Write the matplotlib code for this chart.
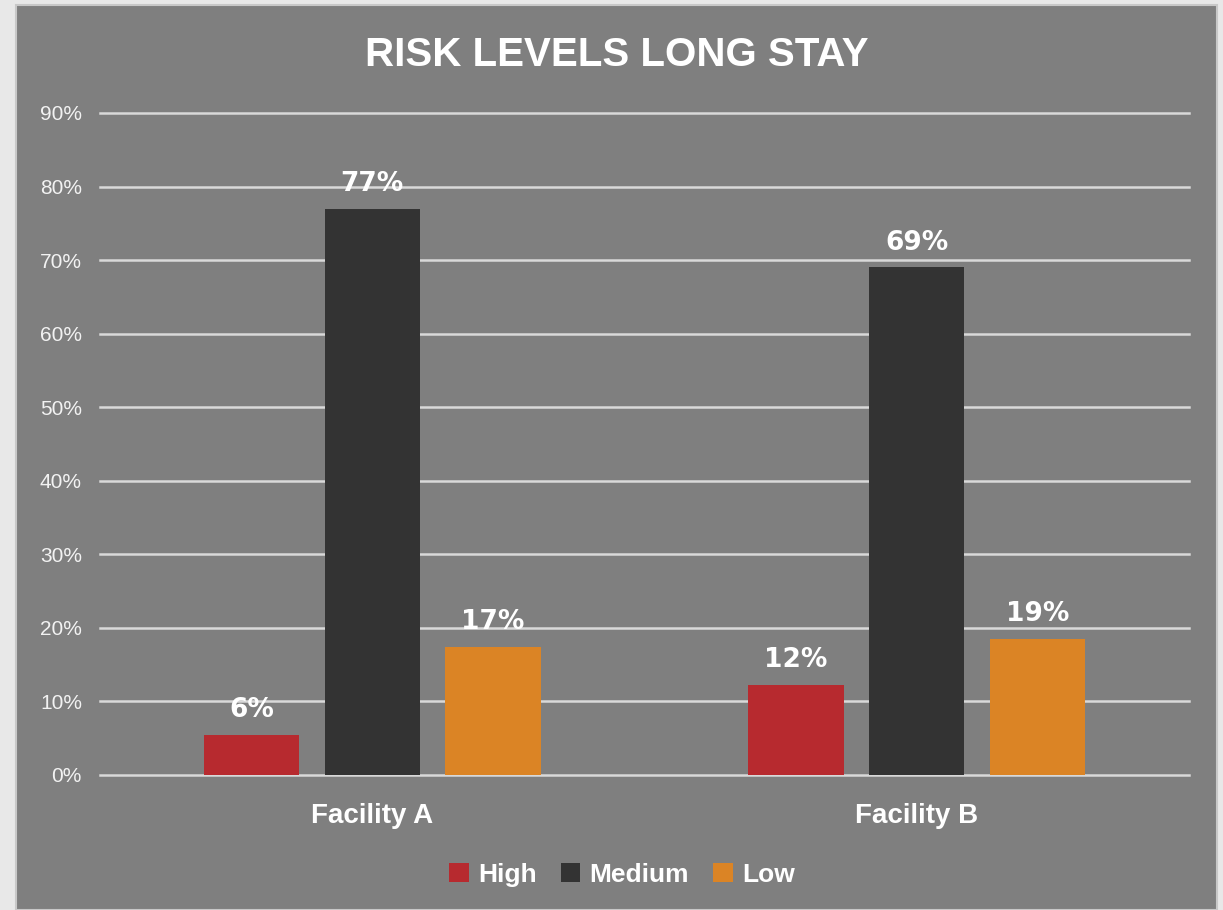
import matplotlib
matplotlib.use("Agg")
import matplotlib.pyplot as plt
from matplotlib.patches import Rectangle
from matplotlib.ticker import PercentFormatter

facilities = ["Facility A", "Facility B"]
series_names = ["High", "Medium", "Low"]
high = [0.055, 0.123]
medium = [0.77, 0.69]
low = [0.174, 0.185]
value_labels = [["6%", "12%"], ["77%", "69%"], ["17%", "19%"]]
yticks = [0, 0.1, 0.2, 0.3, 0.4, 0.5, 0.6, 0.7, 0.8, 0.9]

colors = ["#B72A2F", "#333333", "#DB8425"]
panel = "#7F7F7F"
grid_col = "#D9D9D9"
text_col = "#FFFFFF"

W, H = 1223, 910
fig = plt.figure(figsize=(W / 100, H / 100), dpi=100, facecolor="#E8E8E8")
fig.patches.append(Rectangle((16 / W, 0), (1217 - 16) / W, (905) / H,
                             transform=fig.transFigure, facecolor=panel,
                             edgecolor="#C8C8C8", linewidth=1.5, zorder=-5))

ax = fig.add_axes([100 / W, (H - 775) / H, (1189 - 100) / W, (775 - 113) / H])
ax.set_facecolor("none")

width = 0.175
offsets = [-0.222, 0.0, 0.222]
for i, (vals, name) in enumerate(zip([high, medium, low], series_names)):
    xs = [k + offsets[i] for k in range(len(facilities))]
    ax.bar(xs, vals, width=width, color=colors[i], label=name, zorder=3)
    for x, v, lab in zip(xs, vals, value_labels[i]):
        ax.text(x, v + 0.016, lab, ha="center", va="bottom", color=text_col,
                fontsize=19, fontweight="bold", family="DejaVu Sans")

ax.set_xlim(-0.5, 1.5)
ax.set_ylim(0, 0.9)
ax.set_yticks(yticks)
ax.yaxis.set_major_formatter(PercentFormatter(1.0, decimals=0))
ax.set_xticks(range(len(facilities)))
ax.set_xticklabels(facilities, fontsize=20, fontweight="bold", color=text_col,
                   family="Liberation Sans")
ax.tick_params(axis="x", length=0, pad=20)
ax.tick_params(axis="y", length=0, pad=13, labelsize=15, labelcolor="#F2F2F2")
for lab in ax.get_yticklabels():
    lab.set_family("Liberation Sans")
for y in yticks:
    ax.axhline(y, color=grid_col, linewidth=1.8, zorder=1, clip_on=False)
for s in ax.spines.values():
    s.set_visible(False)

fig.text(617 / W, (H - 55) / H, "RISK LEVELS LONG STAY", ha="center", va="center",
         color=text_col, fontsize=29, fontweight="bold", family="Liberation Sans")

leg = fig.legend(loc="center", bbox_to_anchor=(622 / W, (H - 875) / H), ncol=3,
                 frameon=False, handlelength=0.75, handleheight=0.75,
                 handletextpad=0.35, columnspacing=0.9,
                 prop={"family": "Liberation Sans", "weight": "bold", "size": 19})
for t in leg.get_texts():
    t.set_color(text_col)

fig.savefig("out.png", dpi=100, facecolor=fig.get_facecolor())
